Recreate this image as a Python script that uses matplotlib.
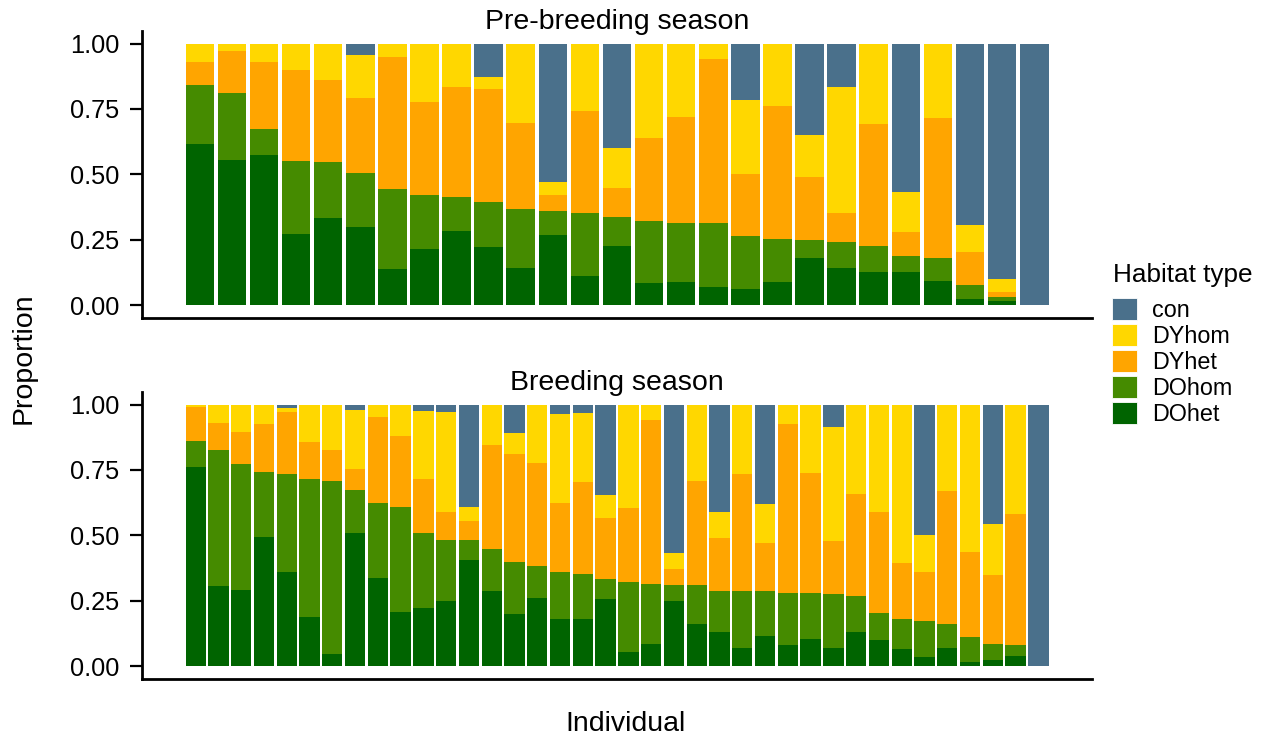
import matplotlib
matplotlib.use("Agg")
import matplotlib.pyplot as plt
from matplotlib.patches import Patch
import numpy as np

plt.rcParams['font.family'] = ['Liberation Sans', 'DejaVu Sans']

categories = ["DOhet", "DOhom", "DYhet", "DYhom", "con"]
colors = {"DOhet": "#006400", "DOhom": "#458B00", "DYhet": "#FFA500",
          "DYhom": "#FFD700", "con": "#4A708B"}
legend_order = ["con", "DYhom", "DYhet", "DOhom", "DOhet"]
y_ticks = [0.0, 0.25, 0.5, 0.75, 1.0]
y_tick_labels = ["0.00", "0.25", "0.50", "0.75", "1.00"]

# Pre-breeding season (27 individuals)
pre_DOhet = [.618, .556, .575, .273, .332, .299, .137, .213, .283, .223, .142, .269, .110, .228,
             .086, .089, .070, .062, .089, .181, .142, .128, .126, .093, .023, .015, 0]
pre_DOhom = [.223, .256, .100, .279, .214, .206, .308, .207, .129, .173, .227, .090, .244, .111,
             .234, .227, .246, .201, .164, .069, .098, .100, .063, .086, .056, .015, 0]
pre_DYhet = [.087, .160, .255, .346, .316, .287, .504, .358, .422, .429, .329, .061, .388, .110,
             .318, .405, .626, .240, .508, .241, .112, .466, .089, .538, .123, .022, 0]
pre_DYhom = [.072, .028, .070, .102, .138, .164, .051, .222, .166, .049, .302, .052, .258, .150,
             .362, .279, .058, .281, .239, .160, .482, .306, .153, .283, .106, .050, 0]
pre_con = [0, 0, 0, 0, 0, .044, 0, 0, 0, .126, 0, .528, 0, .401,
           0, 0, 0, .216, 0, .349, .166, 0, .569, 0, .692, .898, 1.0]

# Breeding season (38 individuals)
br_DOhet = [.761, .308, .292, .492, .362, .189, .046, .510, .339, .206, .222, .249, .405, .286,
            .198, .261, .179, .181, .256, .056, .086, .251, .162, .132, .069, .117, .082, .105,
            .069, .132, .102, .066, .036, .069, .018, .023, .038, 0]
br_DOhom = [.099, .519, .480, .249, .373, .525, .662, .163, .285, .402, .289, .235, .076, .162,
            .202, .121, .183, .172, .079, .264, .230, .060, .149, .156, .219, .169, .197, .174,
            .206, .137, .100, .115, .137, .093, .095, .063, .044, 0]
br_DYhet = [.130, .101, .125, .184, .236, .143, .119, .081, .328, .273, .203, .104, .074, .397,
            .410, .393, .261, .353, .232, .284, .624, .061, .397, .203, .446, .184, .646, .460,
            .203, .390, .389, .214, .189, .507, .325, .263, .499, 0]
br_DYhom = [.010, .072, .103, .075, .016, .143, .173, .226, .048, .119, .263, .383, .055, .155,
            .083, .225, .340, .261, .087, .396, .060, .062, .292, .097, .266, .151, .075, .261,
            .437, .341, .409, .605, .139, .331, .562, .195, .419, 0]
br_con = [0, 0, 0, 0, .013, 0, 0, .020, 0, 0, .023, .029, .390, 0,
          .107, 0, .037, .033, .346, 0, 0, .566, 0, .412, 0, .379, 0, 0,
          .085, 0, 0, 0, .499, 0, 0, .456, 0, 1.0]

pre = {"DOhet": pre_DOhet, "DOhom": pre_DOhom, "DYhet": pre_DYhet, "DYhom": pre_DYhom, "con": pre_con}
br = {"DOhet": br_DOhet, "DOhom": br_DOhom, "DYhet": br_DYhet, "DYhom": br_DYhom, "con": br_con}

W, H = 1266, 735
fig = plt.figure(figsize=(W / 100, H / 100), dpi=100)

def px_axes(left, top, right, bottom):
    return fig.add_axes([left / W, 1 - bottom / H, (right - left) / W, (bottom - top) / H])

ax1 = px_axes(142.3, 30.5, 1091.7, 318.3)
ax2 = px_axes(142.3, 391.5, 1091.7, 679.3)

bar_span_px = 863.0
gap_px = 43.2

def draw(ax, data, title):
    n = len(data["con"])
    x = np.arange(n)
    bottom = np.zeros(n)
    for cat in categories:
        vals = np.array(data[cat], dtype=float)
        ax.bar(x, vals, bottom=bottom, width=0.89, color=colors[cat],
               edgecolor='none', linewidth=0)
        bottom += vals
    unit = bar_span_px / (n - 0.11)
    g = gap_px / unit
    ax.set_xlim(-0.445 - g, n - 1 + 0.445 + g)
    ax.set_ylim(-0.05, 1.05)
    ax.set_xticks([])
    ax.set_yticks(y_ticks)
    ax.set_yticklabels(y_tick_labels)
    ax.tick_params(axis='y', length=8.5, width=1.6, pad=8, labelsize=18.3, colors='black')
    for s in ["top", "right"]:
        ax.spines[s].set_visible(False)
    for s in ["left", "bottom"]:
        ax.spines[s].set_linewidth(2.0)
    ax.text(0.5, 1.004, title, transform=ax.transAxes, ha='center', va='baseline',
            fontsize=20.5)

draw(ax1, pre, "Pre-breeding season")
draw(ax2, br, "Breeding season")

fig.text(24 / W, 1 - 358 / H, "Proportion", rotation=90, ha='center', va='center', fontsize=20.5)
fig.text(626 / W, 1 - 731 / H, "Individual", ha='center', va='baseline', fontsize=20.5)

# Legend title drawn separately, entries via fig.legend
fig.text(1113 / W, 1 - 282 / H, "Habitat type", ha='left', va='baseline', fontsize=18.8)
handles = [Patch(facecolor=colors[c], edgecolor='white', linewidth=0.6) for c in legend_order]
leg = fig.legend(handles, legend_order, loc='upper left',
                 bbox_to_anchor=(1112 / W, 1 - 298 / H), frameon=False,
                 fontsize=16.8, handlelength=1.05, handleheight=1.05, handletextpad=0.65,
                 labelspacing=0.1, borderpad=0.0, borderaxespad=0.0)

fig.savefig("out.png", dpi=100)
